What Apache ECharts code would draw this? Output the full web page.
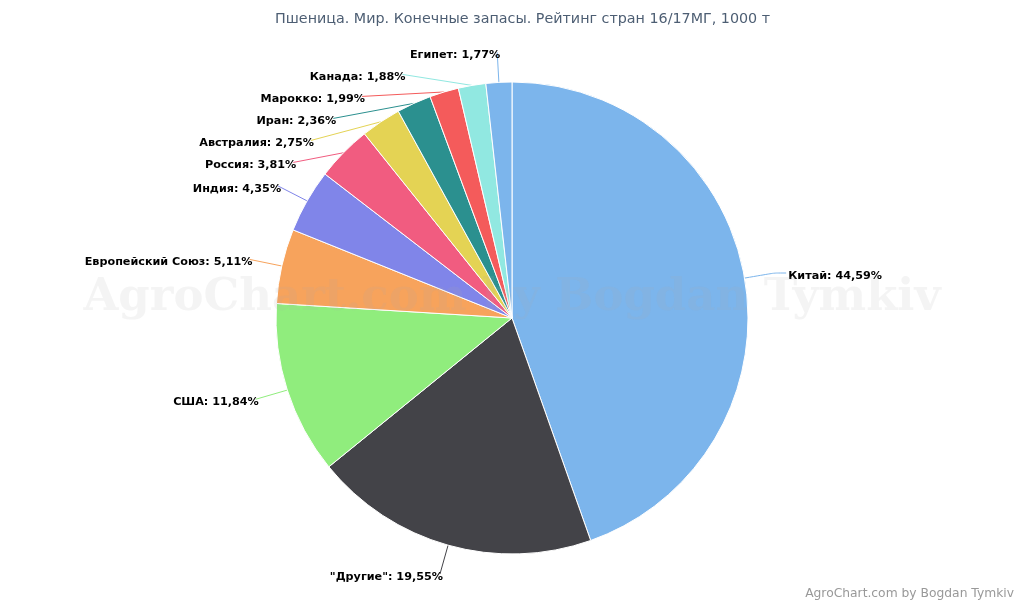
<!DOCTYPE html>
<html><head><meta charset="utf-8">
<script src="https://cdn.jsdelivr.net/npm/echarts@6/dist/echarts.min.js"></script>
<style>html,body{margin:0;padding:0;background:#fff}#c{width:1024px;height:600px}</style>
</head><body><div id="c"></div>
<script>
const categories = ['Китай', '"Другие"', 'США', 'Европейский Союз', 'Индия', 'Россия', 'Австралия', 'Иран', 'Марокко', 'Канада', 'Египет'];
const shares = [44.59, 19.55, 11.84, 5.11, 4.35, 3.81, 2.75, 2.36, 1.99, 1.88, 1.77];
const colors = ['#7cb5ec', '#434348', '#90ed7d', '#f7a35c', '#8085e9', '#f15c80', '#e4d354', '#2b908f', '#f45b5b', '#91e8e1', '#7cb5ec'];
const titleText = 'Пшеница. Мир. Конечные запасы. Рейтинг стран 16/17МГ, 1000 т';
const creditText = 'AgroChart.com by Bogdan Tymkiv';

const chart = echarts.init(document.getElementById('c'), null, {renderer: 'canvas'});
chart.setOption({
  animation: false,
  backgroundColor: '#ffffff',
  title: {
    text: titleText, left: 270, top: 7,
    textStyle: {fontFamily: 'DejaVu Sans', fontSize: 14.3, fontWeight: 'normal', color: '#4d5e73'}
  },
  graphic: [
    {type: 'text', left: 'center', top: 276, z: 10, silent: true,
     style: {text: creditText, font: 'bold 45px "DejaVu Serif", serif', fill: 'rgba(170,170,170,0.13)'}},
    {type: 'text', right: 10, top: 588, z: 10, silent: true,
     style: {text: creditText, fontFamily: 'DejaVu Sans', fontSize: 12.3, fill: '#999999'}}
  ],
  series: [{
    type: 'pie',
    center: [512, 318],
    radius: 236,
    startAngle: 90,
    clockwise: true,
    avoidLabelOverlap: true,
    minShowLabelAngle: 0,
    itemStyle: {borderColor: '#ffffff', borderWidth: 1},
    label: {
      show: true,
      fontFamily: 'DejaVu Sans', fontSize: 11.2, fontWeight: 'bold', color: '#000000',
      lineHeight: 20,
      offset: [0, 3],
      distanceToLabelLine: -3,
      formatter: p => p.name + ': ' + p.value.toFixed(2).replace('.', ',') + '%'
    },
    labelLine: {show: true, length: 30, length2: 0, smooth: 0.2, lineStyle: {width: 1}},
    emphasis: {disabled: true},
    data: categories.map((n, i) => ({
      name: n, value: shares[i], itemStyle: {color: colors[i]},
      labelLine: i === 0 ? {length2: 12} : undefined,
      label: i === 0 ? {distanceToLabelLine: 2} : undefined
    }))
  }]
});
</script>
</body></html>
